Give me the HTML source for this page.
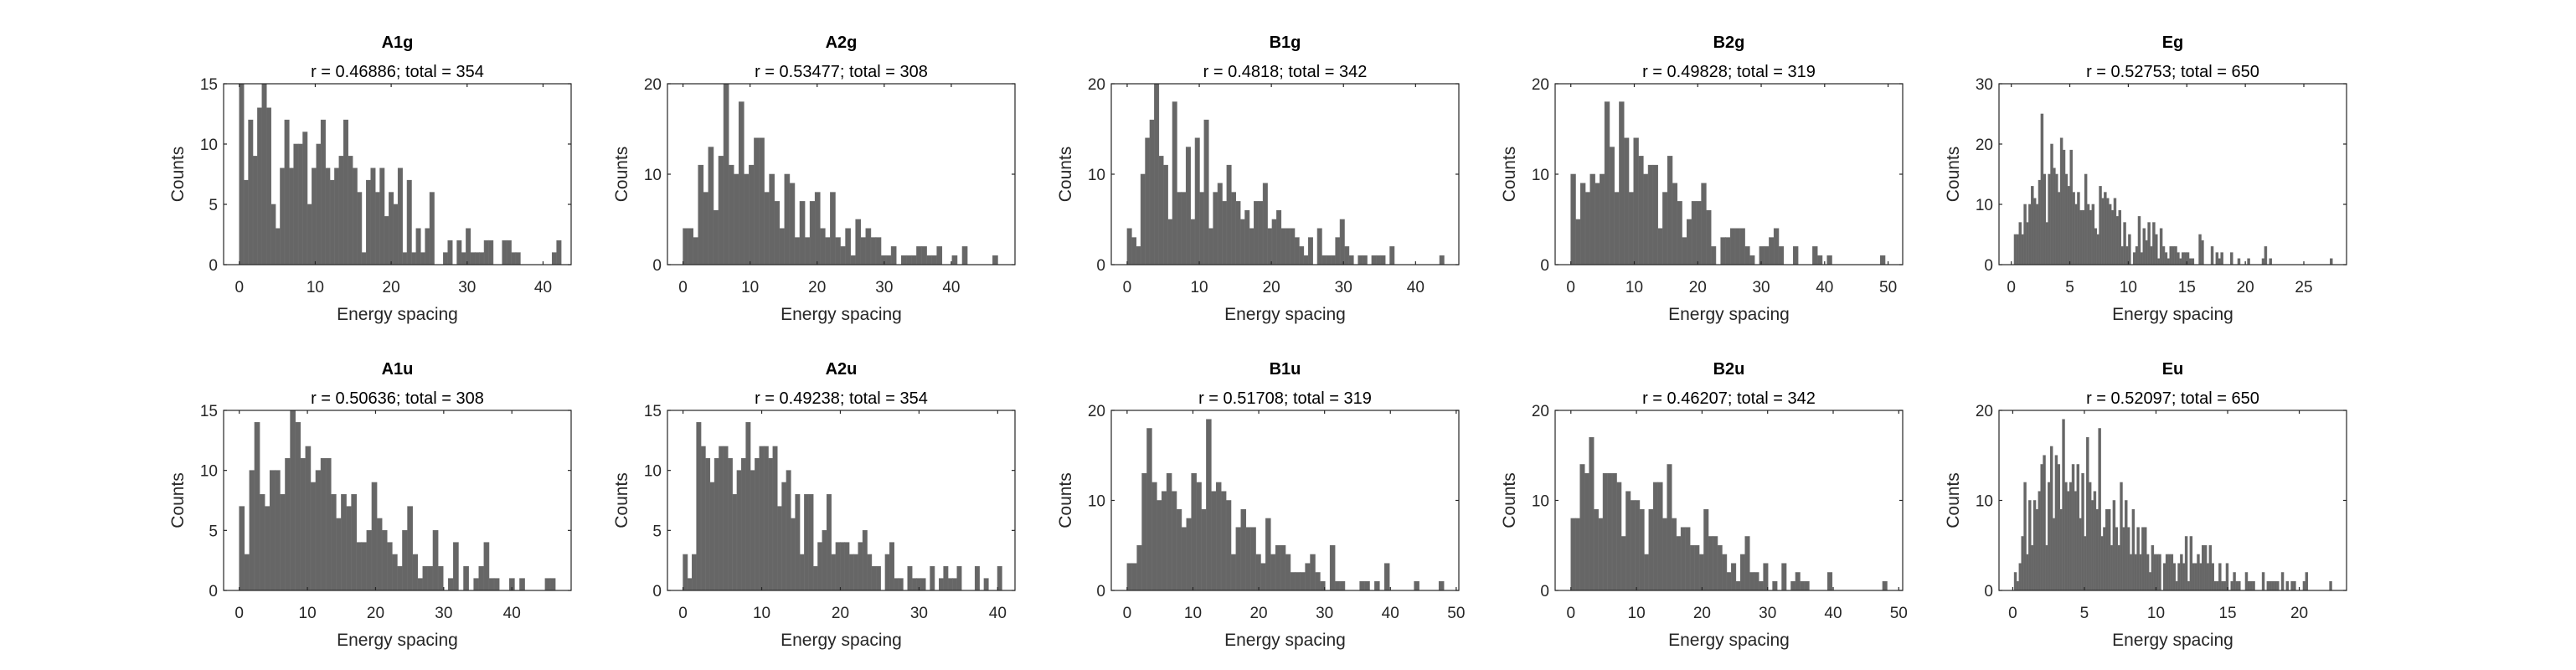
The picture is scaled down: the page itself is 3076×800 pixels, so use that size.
<!DOCTYPE html>
<html><head><meta charset="utf-8">
<style>
html,body{margin:0;padding:0;background:#fff;}
svg{display:block;font-family:"Liberation Sans",Arial,sans-serif;}
</style></head>
<body>
<svg id="fig" width="3076" height="800" viewBox="0 0 3076 800" xmlns="http://www.w3.org/2000/svg">
<rect width="3076" height="800" fill="#fff"/>
</svg>
<script>
// ---- data (counts per bin) ----
const namesTop = ["A1g","A2g","B1g","B2g","Eg"];
const namesBottom = ["A1u","A2u","B1u","B2u","Eu"];
const subtitles = ["r = 0.46886; total = 354","r = 0.53477; total = 308","r = 0.4818; total = 342","r = 0.49828; total = 319","r = 0.52753; total = 650",
                   "r = 0.50636; total = 308","r = 0.49238; total = 354","r = 0.51708; total = 319","r = 0.46207; total = 342","r = 0.52097; total = 650"];
const countsA1g = [15,7,12,9,13,15,13,5,3,8,12,8,10,10,11,5,8,10,12,8,7,8,9,12,9,8,6,1,7,8,6,8,4,6,5,8,1,7,1,3,1,3,6,0,0,1,2,0,2,1,3,1,1,1,2,2,0,0,2,2,1,1,0,0,0,0,0,0,0,1,2];
const countsA2g = [4,4,3,11,8,13,6,12,20,11,10,18,10,11,14,14,8,10,7,4,10,9,3,7,3,7,8,4,3,8,3,2,4,1,5,3,4,3,3,1,1,2,0,1,1,1,2,2,1,1,2,0,0,1,0,2,0,0,0,0,0,1];
const countsB1g = [4,3,2,10,14,16,20,12,11,5,18,8,8,13,5,14,8,16,4,8,9,7,11,8,7,5,6,4,7,7,9,4,5,6,4,4,4,3,2,1,3,0,4,1,1,1,3,5,2,1,0,1,1,0,1,1,1,0,2,0,0,0,0,0,0,0,0,0,0,1];
const countsB2g = [10,5,9,8,10,9,10,18,13,8,18,14,8,14,12,10,11,11,4,8,12,9,7,3,5,7,7,9,6,2,0,3,3,4,4,4,2,1,0,2,2,3,4,2,0,0,2,0,0,0,2,1,0,1,0,0,0,0,0,0,0,0,0,0,1];
const countsEg = [5,5,7,5,10,7,10,13,11,10,14,25,15,7,15,20,16,15,12,21,19,15,13,19,12,10,12,9,9,15,10,9,10,6,5,13,11,12,11,10,9,11,8,9,3,7,3,5,0,2,3,8,2,6,4,7,3,7,5,1,6,3,2,1,3,3,3,2,1,2,2,2,1,1,0,0,5,4,0,0,0,3,0,2,1,2,0,0,0,2,0,0,1,0,0,0,1,0,0,0,0,0,1,3,0,1,0,0,0,0,0,0,0,0,0,0,0,0,0,0,0,0,0,0,0,0,0,0,0,0,1];
const countsA1u = [7,3,10,14,8,7,10,10,8,11,15,14,11,12,9,10,11,11,8,6,8,7,8,4,4,5,9,6,5,4,3,2,5,7,3,1,2,2,5,2,0,1,4,0,2,0,1,2,4,1,1,0,0,1,0,1,0,0,0,0,1,1];
const countsA2u = [3,1,3,14,12,11,9,11,12,12,11,8,10,11,14,10,11,12,12,11,12,7,9,10,6,8,3,8,8,2,4,5,8,3,4,4,4,3,3,4,5,3,2,2,0,3,4,1,1,0,2,1,1,1,0,2,0,1,2,1,1,2,0,0,0,2,0,1,0,0,2];
const countsB1u = [3,3,5,13,18,12,10,11,13,11,9,7,8,13,12,9,19,11,12,11,10,4,7,9,7,7,4,3,8,4,5,5,4,2,2,2,3,4,2,1,0,5,1,1,0,0,0,1,1,0,1,0,3,0,0,0,0,0,1,0,0,0,0,1];
const countsB2u = [8,8,14,13,17,9,8,13,13,13,12,6,11,10,10,9,4,9,12,12,8,14,8,6,7,7,5,5,4,9,6,6,5,4,2,3,1,4,6,2,2,1,3,0,1,0,3,0,1,2,1,1,0,0,0,0,2,0,0,0,0,0,0,0,0,0,0,0,1];
const countsEu = [2,1,3,6,12,4,10,5,10,9,11,14,15,5,12,16,8,15,14,9,19,12,11,12,14,11,14,8,13,6,17,12,10,11,9,18,6,7,9,9,5,10,7,5,12,7,10,7,4,9,4,7,4,7,7,4,2,5,4,4,4,0,3,4,4,4,3,1,3,4,3,6,1,6,3,3,4,3,5,5,3,5,3,1,1,3,1,1,3,0,1,2,1,1,0,0,2,1,1,1,0,0,0,2,0,1,1,1,1,1,0,2,0,1,0,1,1,0,0,0,1,2,0,0,0,0,0,0,0,0,0,1];
// bin geometry (data units)
const binStart = [0,0,0,0,0.24, 0,0,0,0,0.1];
const binWidth = [0.597,0.757,0.628,0.762,0.2077, 0.748,0.571,0.752,0.699,0.168];
// axis limits
const xMin = [-2.07,-2.32,-2.2,-2.47,-1.05, -2.3,-1.98,-2.4,-2.4,-0.96];
const xMax = [43.7,49.5,46.0,52.3,28.65, 48.7,42.2,50.4,50.6,23.3];
const yMax = [15,20,20,20,30, 15,15,20,20,20];
const xTicks = [[0,10,20,30,40],[0,10,20,30,40],[0,10,20,30,40],[0,10,20,30,40,50],[0,5,10,15,20,25],
                [0,10,20,30,40],[0,10,20,30,40],[0,10,20,30,40,50],[0,10,20,30,40,50],[0,5,10,15,20]];
const yTicks = [[0,5,10,15],[0,10,20],[0,10,20],[0,10,20],[0,10,20,30],
                [0,5,10,15],[0,5,10,15],[0,10,20],[0,10,20],[0,10,20]];
const allCounts = [countsA1g,countsA2g,countsB1g,countsB2g,countsEg,countsA1u,countsA2u,countsB1u,countsB2u,countsEu];
const allNames = namesTop.concat(namesBottom);

// ---- layout ----
const NS = "http://www.w3.org/2000/svg";
const svg = document.getElementById("fig");
const lefts = [267,797,1327,1857,2387];
const W = 415;
const tops = [100,490], bottoms = [316,705];
const axisColor = "#262626";

function mk(tag, attrs, parent){
  const e = document.createElementNS(NS, tag);
  for (const k in attrs) e.setAttribute(k, attrs[k]);
  (parent||svg).appendChild(e);
  return e;
}

for (let i = 0; i < 10; i++){
  const row = i < 5 ? 0 : 1, col = i % 5;
  const L = lefts[col], R = L + W, T = tops[row], B = bottoms[row];
  const xs = v => L + (v - xMin[i]) / (xMax[i] - xMin[i]) * (R - L);
  const ys = v => B - v / yMax[i] * (B - T);
  const g = mk("g", {});
  
  

  // bars
  const counts = allCounts[i];
  for (let k = 0; k < counts.length; k++){
    if (counts[k] <= 0) continue;
    const x0 = xs(binStart[i] + k * binWidth[i]);
    const x1 = xs(binStart[i] + (k + 1) * binWidth[i]);
    const y0 = ys(counts[k]);
    const r = mk("rect", {x:x0, y:y0, width:Math.max(x1-x0,0.5), height:B-y0, fill:"#666666", stroke:"#6e6e6e", "stroke-width":0.6}, g);
    
    
  }

  // axes box
  const box = mk("rect", {x:L, y:T, width:W, height:B-T, fill:"none", stroke:axisColor, "stroke-width":1.2}, g);
  
  

  // x ticks
  xTicks[i].forEach(t => {
    const x = xs(t);
    mk("line", {x1:x, y1:B, x2:x, y2:B-4, stroke:axisColor, "stroke-width":1.2}, g);
    mk("line", {x1:x, y1:T, x2:x, y2:T+4, stroke:axisColor, "stroke-width":1.2}, g);
    const tl = mk("text", {x:x, y:B+33, "text-anchor":"middle", "font-size":19, fill:axisColor}, g);
    tl.textContent = t;
    
    
  });
  // y ticks
  yTicks[i].forEach(t => {
    const y = ys(t);
    mk("line", {x1:L, y1:y, x2:L+4, y2:y, stroke:axisColor, "stroke-width":1.2}, g);
    mk("line", {x1:R, y1:y, x2:R-4, y2:y, stroke:axisColor, "stroke-width":1.2}, g);
    const tl = mk("text", {x:L-7, y:y+7, "text-anchor":"end", "font-size":19, fill:axisColor}, g);
    tl.textContent = t;
    
    
  });

  // labels
  const cx = L + W/2;
  const xl = mk("text", {x:cx, y:B+66, "text-anchor":"middle", "font-size":21, fill:axisColor}, g);
  xl.textContent = "Energy spacing";
  
  
  const ym = (T + B) / 2;
  const yl = mk("text", {x:L-48, y:ym, "text-anchor":"middle", "font-size":21, fill:axisColor, transform:"rotate(-90 " + (L-48) + " " + ym + ")"}, g);
  yl.textContent = "Counts";
  
  

  const ti = mk("text", {x:cx, y:T-43, "text-anchor":"middle", "font-size":20, "font-weight":"bold", fill:"#000"}, g);
  ti.textContent = allNames[i];
  
  
  const st = mk("text", {x:cx, y:T-8, "text-anchor":"middle", "font-size":20, fill:"#000"}, g);
  st.textContent = subtitles[i];
  
  
}
</script>
</body></html>
